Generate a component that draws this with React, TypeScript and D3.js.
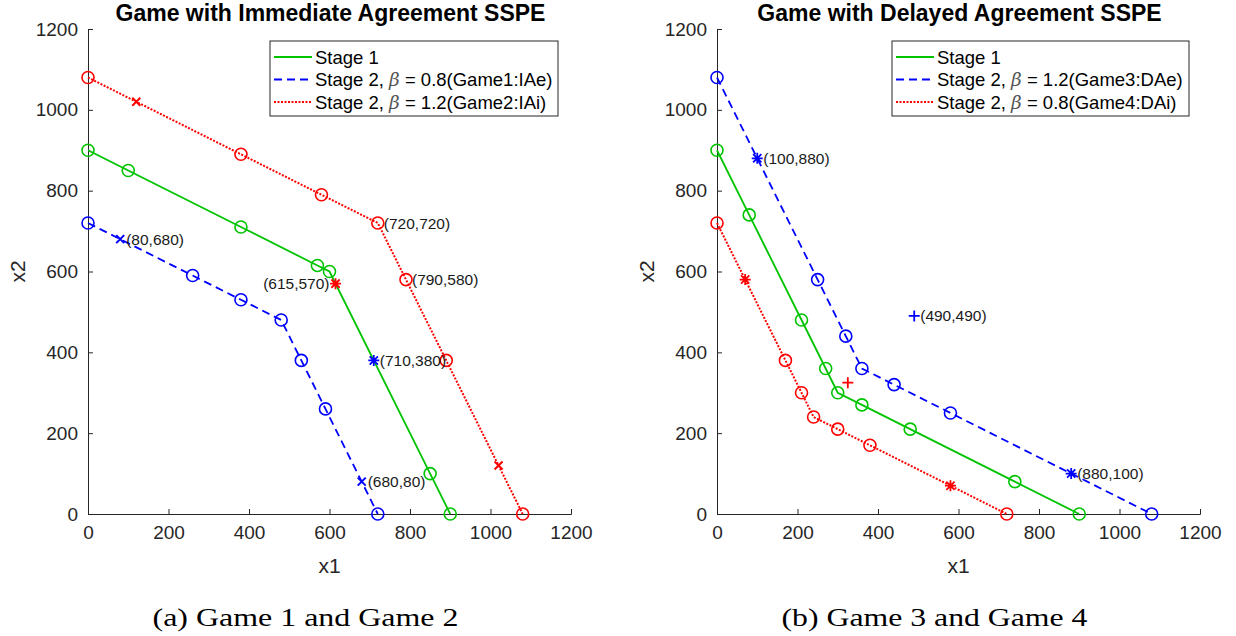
import React, { useEffect, useRef } from 'react';
import * as d3 from 'd3';

const W = 1236;
const H = 636;

const ticks = [0, 200, 400, 600, 800, 1000, 1200];

// Panel (a): immediate agreement
const stage1A_x = [0, 100, 380, 570, 600, 850, 900];
const stage1A_y = [900, 850, 710, 615, 600, 100, 0];
const stage1A_m = ['o', 'o', 'o', 'o', 'o', 'o', 'o'];
const game1_x = [0, 80, 260, 380, 480, 530, 590, 680, 720];
const game1_y = [720, 680, 590, 530, 480, 380, 260, 80, 0];
const game1_m = ['o', 'x', 'o', 'o', 'o', 'o', 'o', 'x', 'o'];
const game2_x = [0, 120, 380, 580, 720, 790, 890, 1020, 1080];
const game2_y = [1080, 1020, 890, 790, 720, 580, 380, 120, 0];
const game2_m = ['o', 'x', 'o', 'o', 'o', 'o', 'o', 'x', 'o'];

// Panel (b): delayed agreement
const stage1B_x = [0, 80, 210, 270, 300, 360, 480, 740, 900];
const stage1B_y = [900, 740, 480, 360, 300, 270, 210, 80, 0];
const stage1B_m = ['o', 'o', 'o', 'o', 'o', 'o', 'o', 'o', 'o'];
const game3_x = [0, 100, 250, 320, 360, 440, 580, 880, 1080];
const game3_y = [1080, 880, 580, 440, 360, 320, 250, 100, 0];
const game3_m = ['o', '*', 'o', 'o', 'o', 'o', 'o', '*', 'o'];
const game4_x = [0, 70, 170, 210, 240, 300, 380, 580, 720];
const game4_y = [720, 580, 380, 300, 240, 210, 170, 70, 0];
const game4_m = ['o', '*', 'o', 'o', 'o', 'o', 'o', '*', 'o'];

const GREEN = '#00c400';
const BLUE = '#0000ff';
const RED = '#ff0000';

type Series = { xs: number[]; ys: number[]; ms: string[]; color: string; dash: string | null };
type Extra = { x: number; y: number; m: string; color: string };
type Label = { x: number; y: number; text: string; side: 'left' | 'right' };

interface PanelCfg {
  left: number;
  right: number;
  title: string;
  caption: string;
  series: Series[];
  extras: Extra[];
  labels: Label[];
  legend: string[];
  legendX: number;
  legendW: number;
}

const panels: PanelCfg[] = [
  {
    left: 88, right: 571,
    title: 'Game with Immediate Agreement SSPE',
    caption: '(a) Game 1 and Game 2',
    series: [
      { xs: stage1A_x, ys: stage1A_y, ms: stage1A_m, color: GREEN, dash: null },
      { xs: game1_x, ys: game1_y, ms: game1_m, color: BLUE, dash: '8,5' },
      { xs: game2_x, ys: game2_y, ms: game2_m, color: RED, dash: '2,1.5' },
    ],
    extras: [
      { x: 615, y: 570, m: '*', color: RED },
      { x: 710, y: 380, m: '*', color: BLUE },
    ],
    labels: [
      { x: 80, y: 680, text: '(80,680)', side: 'right' },
      { x: 720, y: 720, text: '(720,720)', side: 'right' },
      { x: 790, y: 580, text: '(790,580)', side: 'right' },
      { x: 615, y: 570, text: '(615,570)', side: 'left' },
      { x: 710, y: 380, text: '(710,380)', side: 'right' },
      { x: 680, y: 80, text: '(680,80)', side: 'right' },
    ],
    legend: ['0.8(Game1:IAe)', '1.2(Game2:IAi)'],
    legendX: 270, legendW: 288,
  },
  {
    left: 717, right: 1200,
    title: 'Game with Delayed Agreement SSPE',
    caption: '(b) Game 3 and Game 4',
    series: [
      { xs: stage1B_x, ys: stage1B_y, ms: stage1B_m, color: GREEN, dash: null },
      { xs: game3_x, ys: game3_y, ms: game3_m, color: BLUE, dash: '8,5' },
      { xs: game4_x, ys: game4_y, ms: game4_m, color: RED, dash: '2,1.5' },
    ],
    extras: [
      { x: 490, y: 490, m: '+', color: BLUE },
      { x: 325, y: 325, m: '+', color: RED },
    ],
    labels: [
      { x: 100, y: 880, text: '(100,880)', side: 'right' },
      { x: 490, y: 490, text: '(490,490)', side: 'right' },
      { x: 880, y: 100, text: '(880,100)', side: 'right' },
    ],
    legend: ['1.2(Game3:DAe)', '0.8(Game4:DAi)'],
    legendX: 892, legendW: 297,
  },
];

const TOP = 29;
const BOTTOM = 514;
const AXIS = '#262626';
const SANS = '"Liberation Sans", Arial, sans-serif';

function drawMarker(g: d3.Selection<SVGGElement, unknown, null, undefined>, px: number, py: number, m: string, color: string) {
  if (m === 'o') {
    g.append('circle').attr('cx', px).attr('cy', py).attr('r', 6)
      .attr('fill', 'none').attr('stroke', color).attr('stroke-width', 1.6);
    return;
  }
  const s = m === 'x' ? 4 : 5.5;
  const path = d3.path();
  if (m === 'x' || m === '*') {
    const d = m === '*' ? s * 0.75 : s;
    path.moveTo(px - d, py - d); path.lineTo(px + d, py + d);
    path.moveTo(px - d, py + d); path.lineTo(px + d, py - d);
  }
  if (m === '+' || m === '*') {
    path.moveTo(px - s, py); path.lineTo(px + s, py);
    path.moveTo(px, py - s); path.lineTo(px, py + s);
  }
  g.append('path').attr('d', path.toString()).attr('stroke', color)
    .attr('stroke-width', m === 'x' ? 2 : 1.8).attr('fill', 'none');
}

export default function App() {
  const ref = useRef<SVGSVGElement | null>(null);

  useEffect(() => {
    if (!ref.current) return;
    const svg = d3.select(ref.current);
    svg.selectAll('*').remove();

    panels.forEach((p) => {
      const x = d3.scaleLinear().domain([0, 1200]).range([p.left, p.right]);
      const y = d3.scaleLinear().domain([0, 1200]).range([BOTTOM, TOP]);
      const g = svg.append('g');
      const mid = (p.left + p.right) / 2;

      // axes (left + bottom only, ticks inside)
      const xAxis = g.append('g').attr('transform', `translate(0,${BOTTOM})`)
        .call(d3.axisBottom(x).tickValues(ticks).tickSize(-5).tickPadding(12).tickFormat(d3.format('d')));
      const yAxis = g.append('g').attr('transform', `translate(${p.left},0)`)
        .call(d3.axisLeft(y).tickValues(ticks).tickSize(-5).tickPadding(10).tickFormat(d3.format('d')));
      [xAxis, yAxis].forEach((a) => {
        a.select('.domain').attr('stroke', AXIS).attr('stroke-width', 1);
        a.selectAll('.tick line').attr('stroke', AXIS).attr('stroke-width', 1);
        a.selectAll('.tick text').attr('fill', AXIS).style('font-family', SANS).style('font-size', '19px');
      });

      g.append('text').attr('x', mid).attr('y', 573)
        .attr('text-anchor', 'middle').attr('fill', AXIS)
        .style('font-family', SANS).style('font-size', '21px').text('x1');
      g.append('text').attr('transform', `translate(${p.left - 63},${(TOP + BOTTOM) / 2}) rotate(-90)`)
        .attr('text-anchor', 'middle').attr('fill', AXIS)
        .style('font-family', SANS).style('font-size', '21px').text('x2');

      g.append('text').attr('x', mid + 1).attr('y', 21)
        .attr('text-anchor', 'middle').attr('fill', '#000')
        .style('font-family', SANS).style('font-size', '23px').style('font-weight', 'bold').text(p.title);

      g.append('text').attr('x', mid - 24).attr('y', 626)
        .attr('text-anchor', 'middle').attr('fill', '#000')
        .attr('textLength', 306).attr('lengthAdjust', 'spacingAndGlyphs')
        .style('font-family', '"Liberation Serif", "DejaVu Serif", serif').style('font-size', '25px').text(p.caption);

      // lines
      p.series.forEach((s) => {
        const line = d3.line<number>().x((_, i) => x(s.xs[i])).y((_, i) => y(s.ys[i]));
        g.append('path').attr('d', line(s.xs)).attr('fill', 'none')
          .attr('stroke', s.color).attr('stroke-width', s.dash === '2,1.5' ? 2 : 1.8)
          .attr('stroke-dasharray', s.dash);
        s.xs.forEach((v, i) => drawMarker(g, x(v), y(s.ys[i]), s.ms[i], s.color));
      });
      p.extras.forEach((e) => drawMarker(g, x(e.x), y(e.y), e.m, e.color));

      p.labels.forEach((l) => {
        g.append('text')
          .attr('x', x(l.x) + (l.side === 'right' ? 6 : -6))
          .attr('y', y(l.y) + 5.5)
          .attr('text-anchor', l.side === 'right' ? 'start' : 'end')
          .attr('fill', '#1a1a1a')
          .style('font-family', SANS).style('font-size', '15.5px').text(l.text);
      });

      // legend
      const lg = g.append('g');
      lg.append('rect').attr('x', p.legendX).attr('y', 41).attr('width', p.legendW).attr('height', 75)
        .attr('fill', '#fff').attr('stroke', AXIS).attr('stroke-width', 1);
      const rows = ['Stage 1', ...p.legend];
      rows.forEach((r, i) => {
        const ry = 57 + i * 22.5;
        const s = p.series[i];
        lg.append('line').attr('x1', p.legendX + 4).attr('x2', p.legendX + 42).attr('y1', ry).attr('y2', ry)
          .attr('stroke', s.color).attr('stroke-width', s.dash === '2,1.5' ? 2 : 1.8)
          .attr('stroke-dasharray', s.dash);
        const t = lg.append('text').attr('x', p.legendX + 45).attr('y', ry + 6.5)
          .attr('fill', '#000').style('font-family', SANS).style('font-size', '18.5px');
        if (i === 0) {
          t.text(r);
        } else {
          t.append('tspan').text('Stage 2, ');
          t.append('tspan').text('β').attr('fill', '#555').style('font-style', 'italic')
            .style('font-family', '"DejaVu Serif", serif');
          t.append('tspan').text(' = ' + r);
        }
      });
    });
  }, []);

  return (
    <svg ref={ref} width={W} height={H} style={{ position: 'absolute', left: 0, top: 0, background: '#fff' }} />
  );
}
